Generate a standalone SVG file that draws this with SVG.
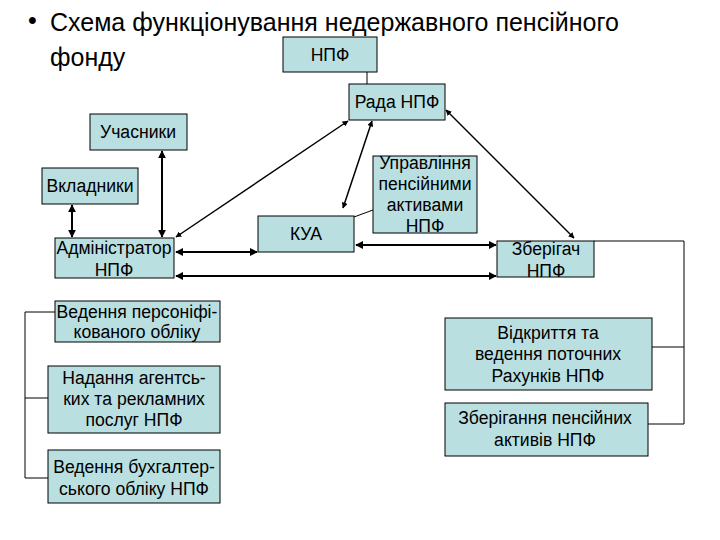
<svg xmlns="http://www.w3.org/2000/svg" width="720" height="540" viewBox="0 0 720 540">
<style>
.box{fill:#b9dfe1;stroke:#000;stroke-width:1}
.t{font-family:"Liberation Sans",Arial,sans-serif;font-size:17.6px;fill:#000;text-anchor:middle}
.title{font-family:"Liberation Sans",Arial,sans-serif;font-size:25px;fill:#000}
.thin{stroke:#000;stroke-width:1;fill:none}
.arr{stroke:#000;stroke-width:2;fill:none;marker-start:url(#ah);marker-end:url(#ah)}
.arrd{stroke:#000;stroke-width:1.5;fill:none;marker-start:url(#ah);marker-end:url(#ah)}
</style>
<defs>
<marker id="ah" viewBox="0 0 10 10" refX="9" refY="5" markerWidth="4" markerHeight="4" orient="auto-start-reverse" markerUnits="strokeWidth">
<path d="M0,0 L10,5 L0,10 z" fill="#000"/>
</marker>
</defs>
<rect width="720" height="540" fill="#fff"/>
<g id="title">
<text class="title" x="28" y="29">•</text>
<text class="title" x="50" y="31">Схема функціонування недержавного пенсійного</text>
<text class="title" x="50" y="66">фонду</text>
</g>
<g id="connectors">
<line class="thin" x1="367" y1="72" x2="367" y2="84"/>
<line class="thin" x1="354" y1="217" x2="373" y2="210"/>
<polyline class="thin" points="594,241 684,241 684,424 648,424"/>
<line class="thin" x1="652" y1="347" x2="684" y2="347"/>
<polyline class="thin" points="55,312 25,312 25,478 48,478"/>
<line class="thin" x1="25" y1="398" x2="48" y2="398"/>
<line class="arr" x1="162" y1="151" x2="162" y2="237"/>
<line class="arr" x1="72" y1="205" x2="72" y2="237"/>
<line class="arrd" x1="176" y1="237" x2="348" y2="121"/>
<line class="arrd" x1="343" y1="208" x2="372" y2="121"/>
<line class="arrd" x1="446" y1="110" x2="574" y2="238"/>
<line class="arr" x1="176" y1="252" x2="257" y2="252"/>
<line class="arr" x1="356" y1="245" x2="496" y2="245"/>
<line class="arr" x1="176" y1="276" x2="496" y2="276"/>
</g>
<g id="npf"><rect class="box" x="283" y="37" width="94" height="35"/><text class="t" x="330" y="61">НПФ</text></g>
<g id="rada"><rect class="box" x="349" y="84" width="96" height="36"/><text class="t" x="397" y="108">Рада НПФ</text></g>
<g id="uchasnyky"><rect class="box" x="90" y="114" width="97" height="36"/><text class="t" x="138" y="138">Учасники</text></g>
<g id="vkladnyky"><rect class="box" x="42" y="168" width="96" height="36"/><text class="t" x="90" y="192">Вкладники</text></g>
<g id="admin"><rect class="box" x="55" y="238" width="119" height="40"/><text class="t" x="114" y="254">Адміністратор</text><text class="t" x="114" y="276">НПФ</text></g>
<g id="kua"><rect class="box" x="258" y="216" width="96" height="36"/><text class="t" x="306" y="240">КУА</text></g>
<g id="upravlinnia"><rect class="box" x="373" y="156" width="104" height="77"/><text class="t" x="425" y="169">Управління</text><text class="t" x="425" y="190">пенсійними</text><text class="t" x="425" y="211">активами</text><text class="t" x="425" y="232">НПФ</text></g>
<g id="zberigach"><rect class="box" x="497" y="241" width="97" height="36"/><text class="t" x="546" y="255">Зберігач</text><text class="t" x="546" y="277">НПФ</text></g>
<g id="personif"><rect class="box" x="55" y="301" width="165" height="41"/><text class="t" x="137" y="318">Ведення персоніфі-</text><text class="t" x="137" y="338">кованого обліку</text></g>
<g id="agent"><rect class="box" x="48" y="366" width="172" height="67"/><text class="t" x="134" y="384">Надання агентсь-</text><text class="t" x="134" y="405">ких та рекламних</text><text class="t" x="134" y="426">послуг НПФ</text></g>
<g id="buh"><rect class="box" x="48" y="450" width="172" height="53"/><text class="t" x="134" y="473">Ведення бухгалтер-</text><text class="t" x="134" y="495">ського обліку НПФ</text></g>
<g id="rahunky"><rect class="box" x="445" y="318" width="207" height="72"/><text class="t" x="548" y="339">Відкриття та</text><text class="t" x="548" y="360">ведення поточних</text><text class="t" x="548" y="382">Рахунків НПФ</text></g>
<g id="zberigannia"><rect class="box" x="445" y="403" width="203" height="53"/><text class="t" x="545" y="424">Зберігання пенсійних</text><text class="t" x="545" y="446">активів НПФ</text></g>
</svg>
